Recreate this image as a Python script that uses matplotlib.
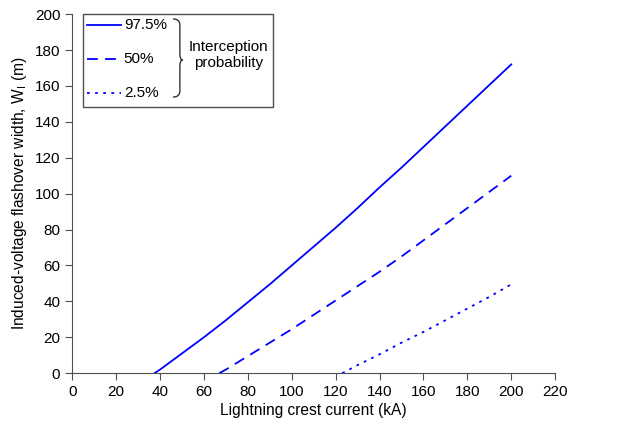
import matplotlib
matplotlib.use("Agg")
import matplotlib.pyplot as plt
from matplotlib.path import Path
from matplotlib.patches import PathPatch

plt.rcParams["font.family"] = ["Liberation Sans", "DejaVu Sans"]

# lightning crest current (kA) vs flashover width (m)
x_975 = [37.5, 40, 50, 60, 70, 80, 90, 100, 110, 120, 130, 140, 150, 160, 170, 180, 190, 200]
y_975 = [0, 2, 11, 20, 29.5, 39.5, 49.5, 60, 70.5, 81, 92, 103.5, 114.5, 126, 137.5, 149, 160.5, 172]
x_50 = [67, 70, 80, 90, 100, 110, 120, 130, 140, 150, 160, 170, 180, 190, 200]
y_50 = [0, 2, 9.5, 17, 24.5, 32.5, 40.5, 48.5, 56.5, 65, 74, 83, 92, 101, 110]
x_25 = [123, 130, 140, 150, 160, 170, 180, 190, 200]
y_25 = [0, 4.5, 10.5, 17, 23, 29.5, 36, 42.5, 49.5]
labels = ["97.5%", "50%", "2.5%"]

blue = "#0000ff"
grey = "#505050"
styles = ["-", (0, (6, 4)), (0, (1.5, 3))]

fig = plt.figure(figsize=(6.33, 4.28), dpi=100)
ax = fig.add_axes([0.114, 0.128, 0.763, 0.839])

for xs, ys, ls in zip([x_975, x_50, x_25], [y_975, y_50, y_25], styles):
    ax.plot(xs, ys, color=blue, lw=1.3, linestyle=ls)

ax.set_xlim(0, 220)
ax.set_ylim(0, 200)
ax.set_xticks(range(0, 221, 20))
ax.set_yticks(range(0, 201, 20))
ax.spines["top"].set_visible(False)
ax.spines["right"].set_visible(False)
for s in ("left", "bottom"):
    ax.spines[s].set_color(grey)
ax.tick_params(direction="out", length=5, labelsize=11, color=grey)
ax.set_xlabel("Lightning crest current (kA)", fontsize=11.2, labelpad=3)
ax.set_ylabel("Induced-voltage flashover width, W$_\\mathregular{I}$ (m)", fontsize=11.2)

# hand-made legend box with brace
tr = ax.transAxes
box = plt.Rectangle((0.0217, 0.742), 0.394, 0.258, transform=tr, fill=False,
                    edgecolor=grey, lw=1.0, clip_on=False)
ax.add_patch(box)
rows = [0.970, 0.874, 0.781]
for yy, ls, lab in zip(rows, styles, labels):
    ax.plot([0.030, 0.1004], [yy, yy], transform=tr, color=blue, lw=1.3,
            linestyle=ls, clip_on=False)
    ax.text(0.107, yy, lab, transform=tr, fontsize=11, va="center", ha="left")

x0, x1, x2 = 0.2087, 0.223, 0.2288
top, mid, bot, r = 0.9866, 0.872, 0.769, 0.017
verts = [(x0, top), (x1, top), (x1, top - r), (x1, mid + r),
         (x1, mid), (x2, mid), (x1, mid), (x1, mid - r), (x1, bot + r),
         (x1, bot), (x0, bot)]
codes = [Path.MOVETO, Path.CURVE3, Path.CURVE3, Path.LINETO,
         Path.CURVE3, Path.CURVE3, Path.CURVE3, Path.CURVE3, Path.LINETO,
         Path.CURVE3, Path.CURVE3]
ax.add_patch(PathPatch(Path(verts, codes), transform=tr, fill=False,
                       edgecolor="#333333", lw=1.0, clip_on=False))
ax.text(0.3236, 0.886, "Interception\nprobability", transform=tr, fontsize=11,
        va="center", ha="center", linespacing=1.15)

fig.savefig("out.png", dpi=100)
